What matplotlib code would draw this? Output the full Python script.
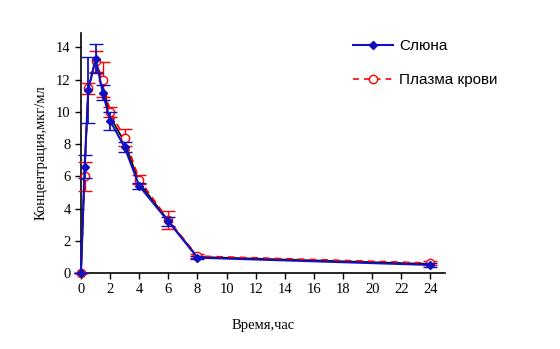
import matplotlib.pyplot as plt
from matplotlib.lines import Line2D
import numpy as np

# time points, h
time = [0, 0.25, 0.5, 1, 1.5, 2, 3, 4, 6, 8, 24]

# saliva
saliva = [0, 6.6, 11.35, 13.3, 11.2, 9.45, 7.8, 5.4, 3.2, 0.95, 0.5]
saliva_err = [0, 0.7, 2.05, 0.9, 0.45, 0.55, 0.3, 0.2, 0.3, 0.1, 0.1]

# blood plasma
plasma = [0, 6.0, 11.45, 13.15, 12.0, 10.0, 8.4, 5.8, 3.3, 1.05, 0.62]
plasma_err = [0, 0.9, 0.35, 0.65, 1.1, 0.3, 0.55, 0.3, 0.55, 0.1, 0.1]

serif = 'Liberation Serif'
sans = 'Liberation Sans'
blue = '#1010c0'

fig = plt.figure(figsize=(5.6, 3.49), dpi=100)
ax = fig.add_axes([0.1446, 0.2178, 0.65, 0.688])

# mean curve drawn underneath
mean = [(a + b) / 2 for a, b in zip(saliva, plasma)]
ax.plot(time, mean, color='black', lw=1.2, zorder=2, clip_on=False)

ax.errorbar(time, plasma, yerr=plasma_err, color='red', ls=(0, (4, 3)), lw=1.2,
            marker='o', ms=6, mfc='white', mec='red', mew=1.0,
            ecolor='red', elinewidth=1.0, capsize=5, capthick=1.0,
            zorder=3, clip_on=False)
ax.errorbar(time, saliva, yerr=saliva_err, color=blue, lw=1.5,
            marker='D', ms=4.5, mfc=blue, mec=blue,
            ecolor=blue, elinewidth=1.3, capsize=5, capthick=1.0,
            zorder=4, clip_on=False)

ax.set_xlim(0, 25)
ax.set_ylim(0, 14.9)
ax.set_xticks(np.arange(0, 25, 2))
ax.set_yticks(np.arange(0, 15, 2))
ax.spines['top'].set_visible(False)
ax.spines['right'].set_visible(False)
ax.spines['left'].set_linewidth(1.2)
ax.spines['bottom'].set_linewidth(1.2)
ax.tick_params(direction='out', length=4, width=1.0, labelsize=10.5)
for lbl in ax.get_xticklabels() + ax.get_yticklabels():
    lbl.set_fontfamily(serif)

ax.set_xlabel('Время,час', fontfamily=serif, fontsize=10.5, labelpad=16)
ax.set_ylabel('Концентрация,мкг/мл', fontfamily=serif, fontsize=10.5, labelpad=6)

handles = [
    Line2D([], [], color=blue, lw=1.5, marker='D', ms=4, mfc=blue, mec=blue),
    Line2D([], [], color='red', lw=1.2, ls=(0, (3.5, 3)), marker='o', ms=6,
           mfc='white', mec='red'),
]
ax.legend(handles, ['Слюна', 'Плазма крови'], loc='upper left',
          bbox_to_anchor=(0.71, 1.03), frameon=False,
          prop={'family': sans, 'size': 11}, labelspacing=1.3,
          handlelength=2.6, handletextpad=0.4)

plt.savefig('out.png', dpi=100)
